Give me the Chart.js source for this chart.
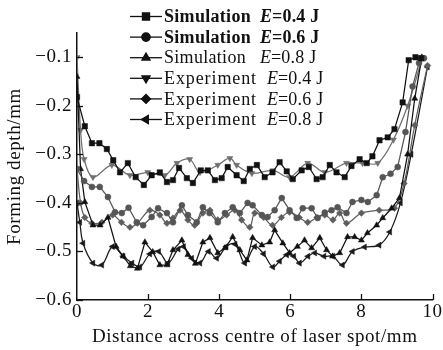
<!DOCTYPE html>
<html>
<head>
<meta charset="utf-8">
<script src="https://cdn.jsdelivr.net/npm/chart.js@4.4.1/dist/chart.umd.min.js"></script>
<style>
html,body{margin:0;padding:0;background:#fff;}
#wrap{width:443px;height:350px;position:relative;}
</style>
</head>
<body>
<div id="wrap"><canvas id="c"></canvas></div>
<script>
// ---- data ----
const xTickValues = [0, 2, 4, 6, 8, 10];
const yTickValues = [-0.6, -0.5, -0.4, -0.3, -0.2, -0.1];

const seriesNames = ["Simulation", "Simulation", "Simulation", "Experiment", "Experiment", "Experiment"];
const seriesEnergy = ["=0.4 J", "=0.6 J", "=0.8 J", "=0.4 J", "=0.6 J", "=0.8 J"];

const sim04X = [0, 0.22, 0.42, 0.63, 0.84, 1.02, 1.21, 1.43, 1.65, 1.88, 2.1, 2.33, 2.53, 2.70, 2.87, 3.09, 3.26, 3.48, 3.68, 3.88, 4.07, 4.24, 4.49, 4.69, 4.86, 5.06, 5.28, 5.50, 5.70, 5.90, 6.07, 6.32, 6.52, 6.74, 6.91, 7.11, 7.30, 7.53, 7.72, 7.95, 8.15, 8.31, 8.51, 8.74, 8.93, 9.16, 9.33, 9.52, 9.68];
const sim04Y = [-0.182, -0.242, -0.277, -0.277, -0.289, -0.312, -0.337, -0.318, -0.347, -0.363, -0.343, -0.337, -0.357, -0.353, -0.328, -0.349, -0.359, -0.333, -0.333, -0.353, -0.349, -0.326, -0.343, -0.355, -0.330, -0.322, -0.347, -0.337, -0.316, -0.335, -0.351, -0.333, -0.326, -0.351, -0.347, -0.322, -0.337, -0.347, -0.324, -0.310, -0.318, -0.304, -0.271, -0.265, -0.248, -0.193, -0.106, -0.100, -0.102];

const sim06X = [0, 0.2, 0.42, 0.64, 0.87, 1.07, 1.26, 1.45, 1.68, 1.86, 2.1, 2.28, 2.53, 2.70, 2.95, 3.12, 3.37, 3.54, 3.73, 3.96, 4.16, 4.38, 4.58, 4.80, 4.94, 5.2, 5.36, 5.56, 5.76, 5.98, 6.18, 6.35, 6.60, 6.77, 6.97, 7.16, 7.33, 7.58, 7.75, 8.0, 8.18, 8.43, 8.6, 8.82, 9.02, 9.24, 9.44, 9.62, 9.76];
const sim06Y = [-0.33, -0.355, -0.367, -0.367, -0.388, -0.419, -0.421, -0.41, -0.440, -0.446, -0.429, -0.411, -0.421, -0.440, -0.405, -0.425, -0.440, -0.409, -0.421, -0.440, -0.421, -0.409, -0.421, -0.400, -0.405, -0.425, -0.429, -0.415, -0.390, -0.415, -0.431, -0.411, -0.411, -0.431, -0.42, -0.415, -0.409, -0.421, -0.398, -0.394, -0.398, -0.384, -0.347, -0.34, -0.326, -0.254, -0.16, -0.112, -0.102];

const sim08X = [0, 0.1, 0.22, 0.45, 0.65, 0.87, 1.1, 1.3, 1.5, 1.7, 1.91, 2.13, 2.33, 2.53, 2.70, 2.95, 3.12, 3.33, 3.54, 3.74, 3.96, 4.16, 4.38, 4.58, 4.78, 4.94, 5.2, 5.42, 5.56, 5.79, 5.98, 6.2, 6.4, 6.6, 6.83, 7.02, 7.19, 7.39, 7.61, 7.81, 8.0, 8.17, 8.43, 8.6, 8.85, 9.07, 9.3, 9.5, 9.7];
const sim08Y = [-0.14, -0.33, -0.398, -0.446, -0.446, -0.43, -0.49, -0.51, -0.53, -0.535, -0.481, -0.501, -0.528, -0.528, -0.497, -0.477, -0.507, -0.525, -0.481, -0.472, -0.503, -0.493, -0.47, -0.497, -0.518, -0.472, -0.487, -0.481, -0.456, -0.483, -0.503, -0.49, -0.477, -0.493, -0.472, -0.497, -0.51, -0.503, -0.470, -0.470, -0.477, -0.462, -0.446, -0.431, -0.411, -0.39, -0.30, -0.185, -0.10];

const exp04X = [0, 0.1, 0.2, 0.45, 0.98, 1.49, 1.99, 2.47, 2.81, 3.17, 3.46, 3.96, 4.3, 4.49, 4.92, 5.51, 5.98, 6.49, 6.97, 7.58, 8.03, 8.46, 8.9, 9.3, 9.72];
const exp04Y = [-0.10, -0.25, -0.31, -0.347, -0.322, -0.343, -0.337, -0.343, -0.318, -0.31, -0.337, -0.322, -0.308, -0.322, -0.339, -0.333, -0.347, -0.318, -0.337, -0.318, -0.318, -0.318, -0.27, -0.20, -0.10];

const exp06X = [0, 0.1, 0.22, 0.42, 0.7, 1.0, 1.25, 1.49, 1.7, 2.05, 2.33, 2.53, 2.7, 2.9, 3.12, 3.31, 3.54, 3.74, 3.96, 4.21, 4.44, 4.63, 4.86, 5.0, 5.25, 5.5, 5.75, 5.98, 6.25, 6.49, 6.75, 6.97, 7.2, 7.39, 7.58, 8.0, 8.5, 8.93, 9.2, 9.5, 9.86];
const exp06Y = [-0.33, -0.40, -0.43, -0.442, -0.44, -0.425, -0.44, -0.45, -0.442, -0.415, -0.425, -0.442, -0.431, -0.415, -0.435, -0.446, -0.421, -0.415, -0.435, -0.425, -0.415, -0.435, -0.45, -0.421, -0.43, -0.446, -0.43, -0.419, -0.43, -0.44, -0.43, -0.425, -0.435, -0.421, -0.442, -0.421, -0.415, -0.411, -0.36, -0.24, -0.117];

const exp08X = [0, 0.08, 0.17, 0.45, 0.7, 1.0, 1.3, 1.55, 1.77, 2.05, 2.3, 2.56, 2.85, 3.0, 3.23, 3.46, 3.7, 3.93, 4.2, 4.45, 4.72, 5.0, 5.25, 5.51, 5.7, 5.9, 6.1, 6.26, 6.5, 6.69, 6.95, 7.2, 7.47, 7.75, 8.09, 8.5, 8.8, 9.1, 9.4, 9.86];
const exp08Y = [-0.40, -0.44, -0.483, -0.524, -0.528, -0.49, -0.51, -0.524, -0.532, -0.505, -0.50, -0.524, -0.495, -0.49, -0.514, -0.524, -0.50, -0.514, -0.49, -0.485, -0.524, -0.49, -0.505, -0.532, -0.52, -0.507, -0.51, -0.524, -0.51, -0.503, -0.51, -0.51, -0.528, -0.50, -0.491, -0.487, -0.46, -0.40, -0.30, -0.12];

// ---- build chart ----
const pts = (xs, ys) => xs.map((x, i) => ({x: x, y: ys[i]}));
const SERIF = '"Liberation Serif", "Times New Roman", serif';

const styles = [
  {color:'#111', style:'rect', rot:0, r:3.8, tension:0},
  {color:'#555', style:'circle', rot:0, r:3.0, tension:0},
  {color:'#111', style:'triangle', rot:0, r:3.5, tension:0},
  {color:'#6f6f6f', style:'triangle', rot:180, r:3.5, tension:0.35},
  {color:'#5e5e5e', style:'rectRot', rot:0, r:3.3, tension:0.35},
  {color:'#1a1a1a', style:'triangle', rot:-90, r:3.5, tension:0.35}
];
const dataPairs = [[sim04X,sim04Y],[sim06X,sim06Y],[sim08X,sim08Y],[exp04X,exp04Y],[exp06X,exp06Y],[exp08X,exp08Y]];

const datasets = dataPairs.map((p, i) => ({
  label: seriesNames[i] + ' E' + seriesEnergy[i],
  data: pts(p[0], p[1]),
  borderColor: styles[i].color,
  backgroundColor: styles[i].color,
  borderWidth: 1.25,
  pointStyle: styles[i].style,
  rotation: styles[i].rot,
  pointRadius: styles[i].r,
  pointBorderWidth: 0.5,
  tension: styles[i].tension,
  fill: false
}));

const fmt = v => (Math.round(v * 10) / 10).toFixed(1).replace('-', '\u2212');

const spacingPlugin = {
  id: 'spacing',
  beforeDraw(chart) { chart.ctx.letterSpacing = '0.6px'; }
};

const tickPlugin = {
  id: 'inwardTicks',
  afterDraw(chart) {
    const ctx = chart.ctx, a = chart.chartArea, xs = chart.scales.x, ys = chart.scales.y;
    ctx.save();
    ctx.strokeStyle = '#111';
    ctx.lineWidth = 1.3;
    xTickValues.forEach(v => {
      if (v === 0) return;
      const px = Math.round(xs.getPixelForValue(v)) + 0.5;
      ctx.beginPath(); ctx.moveTo(px, a.bottom); ctx.lineTo(px, a.bottom - 6); ctx.stroke();
    });
    yTickValues.forEach(v => {
      const py = Math.round(ys.getPixelForValue(v)) + 0.5;
      ctx.beginPath(); ctx.moveTo(a.left, py); ctx.lineTo(a.left + 6, py); ctx.stroke();
    });
    ctx.restore();
  }
};

const legendPlugin = {
  id: 'customLegend',
  afterDraw(chart) {
    const ctx = chart.ctx;
    ctx.save();
    const lineX0 = 130, lineX1 = 162, markX = 146, textX = 164;
    for (let i = 0; i < 6; i++) {
      const yc = 16.5 + i * 20.6;
      const bold = i < 2;
      ctx.strokeStyle = '#111';
      ctx.fillStyle = '#111';
      ctx.lineWidth = 1.3;
      ctx.beginPath(); ctx.moveTo(lineX0, yc); ctx.lineTo(lineX1, yc); ctx.stroke();
      Chart.helpers.drawPoint(ctx, {pointStyle: styles[i].style, rotation: styles[i].rot, radius: styles[i].r + 1.2, borderWidth: 0.5}, markX, yc);
      ctx.fill();
      ctx.textBaseline = 'middle';
      ctx.textAlign = 'left';
      const w = bold ? 'bold ' : '';
      ctx.font = w + '18px ' + SERIF;
      const isExp = i >= 3;
      ctx.letterSpacing = isExp ? '0.9px' : '0.3px';
      ctx.fillText(seriesNames[i], textX, yc + 1);
      const ex = isExp ? 267 : 260;
      ctx.font = 'italic ' + w + '18px ' + SERIF;
      ctx.letterSpacing = '0px';
      ctx.fillText('E', ex, yc + 1);
      const ew = ctx.measureText('E').width;
      ctx.font = w + '18px ' + SERIF;
      ctx.letterSpacing = '0.2px';
      ctx.fillText(seriesEnergy[i], ex + ew, yc + 1);
    }
    ctx.restore();
  }
};

new Chart(document.getElementById('c'), {
  type: 'line',
  data: {datasets: datasets},
  plugins: [spacingPlugin, tickPlugin, legendPlugin],
  options: {
    responsive: true,
    maintainAspectRatio: false,
    animation: false,
    layout: {padding: {left: 0, right: 10, top: 33, bottom: 0}},
    plugins: {legend: {display: false}, tooltip: {enabled: false}},
    scales: {
      x: {
        type: 'linear',
        min: 0, max: 10,
        afterBuildTicks: s => { s.ticks = xTickValues.map(v => ({value: v})); },
        afterFit: s => { s.height = 50; },
        grid: {display: false, drawTicks: false},
        border: {display: true, color: '#111', width: 1.5},
        ticks: {color: '#111', padding: 1, font: {family: SERIF, size: 19}, maxRotation: 0, callback: v => String(v)},
        title: {display: true, text: 'Distance across centre of laser spot/mm', color: '#111', font: {family: SERIF, size: 19}, padding: {top: 0, bottom: 2}}
      },
      y: {
        type: 'linear',
        min: -0.6, max: -0.05,
        afterBuildTicks: s => { s.ticks = yTickValues.map(v => ({value: v})); },
        afterFit: s => { s.width = 77; },
        grid: {display: false, drawTicks: false},
        border: {display: true, color: '#111', width: 1.5},
        ticks: {color: '#111', padding: 5, font: {family: SERIF, size: 19}, callback: v => fmt(v)},
        title: {display: true, text: 'Forming depth/mm', color: '#111', font: {family: SERIF, size: 19}, padding: {top: 4, bottom: 0}}
      }
    }
  }
});
</script>
</body>
</html>
